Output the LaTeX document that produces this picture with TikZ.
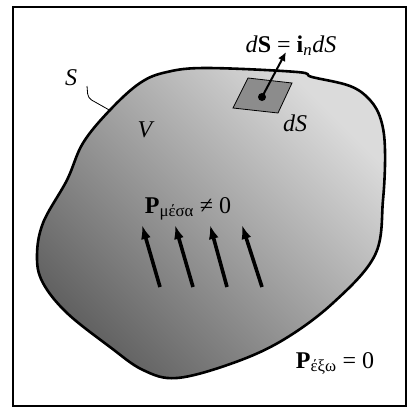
\documentclass[tikz,border=0pt]{standalone}
\usepackage{fontspec}
\setmainfont{Liberation Serif}
\usetikzlibrary{arrows.meta,positioning,calc}
\tikzset{
    boxframe/.style = {draw, line width=1.5pt},
    body/.style = {draw, line width=2.6pt, shading=axis, top color=black!14, bottom color=black!62, shading angle=-45},
    txt/.style = {font=\fontsize{24}{28}\selectfont, inner sep=0pt},
    patch/.style = {draw, line width=0.8pt, fill=black!45},
    dot/.style = {circle, fill, inner sep=0pt, minimum size=8pt},
    leader/.style = {draw, line width=0.8pt, rounded corners=4pt},
    force/.style = {line width=3.6pt, -{Latex[length=14pt,width=10pt]}},
    normalvec/.style = {line width=2pt, -{Latex[length=9pt,width=8pt]}},
}

\begin{document}
\begin{tikzpicture}[x=1pt, y=-1pt]
    \useasboundingbox (0,0) rectangle (407,408);
    \draw[boxframe] (13,7) rectangle (406,406);

    % Volume V with its surface S
    \path[body] plot[smooth cycle, tension=0.6] coordinates {(207,68) (297,72) (312,77) (350,86) (370,100) (381,120) (385,150) (383,200) (375,255) (333,303) (283,340) (233,363) (177,378) (143,370) (110,347) (67,313) (43,283) (37,257) (43,223) (67,180) (83,143) (110,110) (140,83) (167,72)};
    \node[txt] (S) at (71,78) {\textit{S}};
    \node[txt] (V) at (146,130) {\textit{V}};
    \coordinate (stail) at (87,86);
    \coordinate (sedge) at (111,111);
    \draw[leader] (stail) -- ++(1,12) -- (sedge);

    % Surface element
    \draw[patch] (248,78) -- (292,83) -- (278,113) -- (233,108) -- cycle;
    \node[dot] (ds) at (262,97) {};
    \node[txt] (dsl) at (295,123) {\textit{dS}};
    \node[txt, anchor=base] (dsn) at (291,52) {\textit{d}\textbf{S} = \textbf{i}\textsubscript{\textit{n}}\textit{dS}};
    \coordinate (ntip) at (286,52);
    \draw[normalvec] (ds.center) -- (ntip);

    % Polarisation inside and outside
    \node[txt, anchor=base] (pin) at (188,213) {\textbf{P}\textsubscript{μέσα} ≠ 0};
    \foreach \tx/\hx in {160/142, 193/175, 227/210, 262/242}
        \draw[force] (\tx,287) -- (\hx,225);
    \node[txt, anchor=base] (pout) at (335,368) {\textbf{P}\textsubscript{έξω} = 0};
\end{tikzpicture}
\end{document}
